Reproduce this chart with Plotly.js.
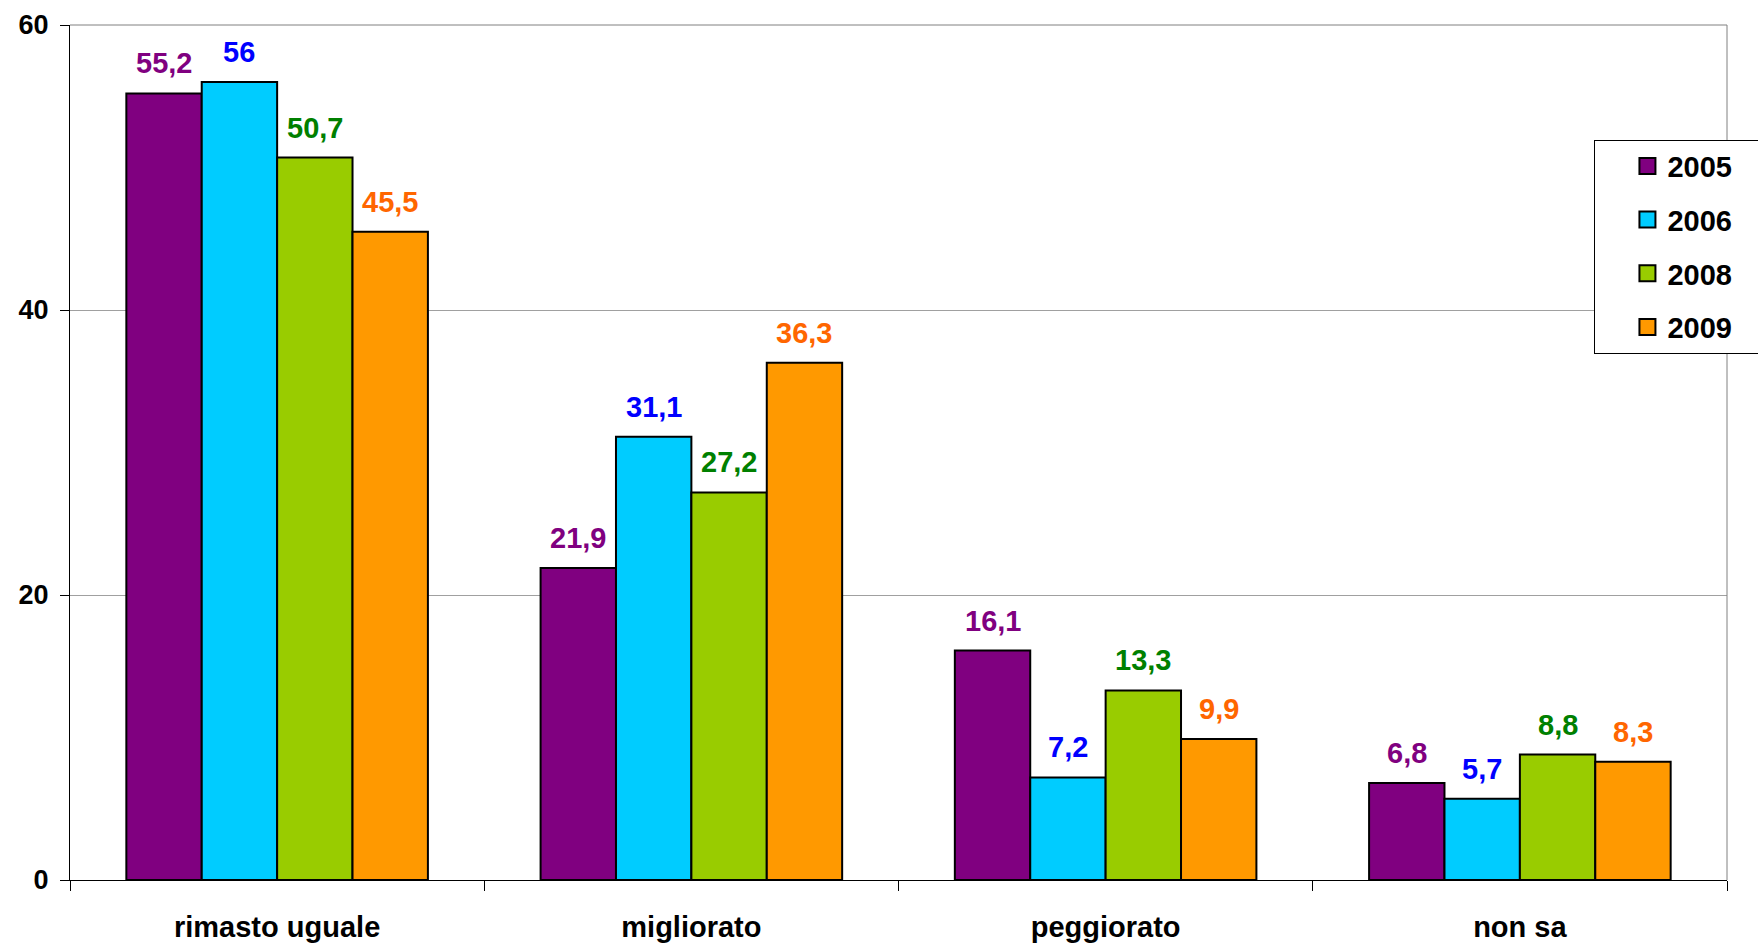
<!DOCTYPE html>
<html>
<head>
<meta charset="utf-8">
<script src="https://cdn.plot.ly/plotly-3.0.1.min.js"></script>
<style>html,body{margin:0;padding:0;background:#fff;}#chart{width:1758px;height:944px;}</style>
</head>
<body>
<div id="chart"></div>
<script>
const categories = ["rimasto uguale", "migliorato", "peggiorato", "non sa"];
const years = ["2005", "2006", "2008", "2009"];
const v2005 = [55.2, 21.9, 16.1, 6.8];
const v2006 = [56, 31.1, 7.2, 5.7];
const v2008 = [50.7, 27.2, 13.3, 8.8];
const v2009 = [45.5, 36.3, 9.9, 8.3];
const barColors = ["#800080", "#00CCFF", "#99CC00", "#FF9900"];
const labelColors = ["#800080", "#0000FF", "#008000", "#FF6600"];
const yTicks = [0, 20, 40, 60];

const series = [v2005, v2006, v2008, v2009];
const FONT = "Liberation Sans, Arial, sans-serif";

const W = 1758, H = 944;
const margin = {l: 69.5, r: 31.4, t: 24.7, b: 64, autoexpand: false};
const BARGAP = 0.272;
const catPx = (W - margin.l - margin.r) / categories.length;
const barPx = catPx * (1 - BARGAP) / series.length;

const traces = series.map((vals, i) => ({
  type: "bar",
  name: years[i],
  x: categories,
  y: vals,
  marker: {color: barColors[i], line: {color: "#000000", width: 2}},
  showlegend: false,
  hoverinfo: "skip"
}));

// legend-only entries (larger square keys, as in the original)
series.forEach((vals, i) => {
  traces.push({
    type: "scatter",
    mode: "markers",
    name: "<b>" + years[i] + "</b>\u00a0\u00a0\u00a0\u00a0\u00a0",
    x: [null], y: [null],
    marker: {symbol: "square", size: 16, color: barColors[i], line: {color: "#000000", width: 2}},
    legendgroup: "g" + i,
    showlegend: true,
    hoverinfo: "skip"
  });
});

const annotations = [];
series.forEach((vals, i) => {
  vals.forEach((v, j) => {
    annotations.push({
      xref: "x", yref: "y",
      x: categories[j], y: v,
      text: "<b>" + String(v).replace(".", ",") + "</b>",
      showarrow: false,
      xanchor: "center", yanchor: "bottom",
      xshift: (i - (series.length - 1) / 2) * barPx,
      yshift: 12,
      font: {family: FONT, size: 29, color: labelColors[i]}
    });
  });
});

const layout = {
  width: W, height: H,
  margin: margin,
  paper_bgcolor: "#ffffff",
  plot_bgcolor: "#ffffff",
  barmode: "group",
  bargap: BARGAP,
  bargroupgap: 0,
  font: {family: FONT, size: 29, color: "#000"},
  xaxis: {
    type: "category",
    tickson: "boundaries",
    ticks: "outside",
    ticklen: 10,
    tickcolor: "#000",
    showline: true,
    linecolor: "#000",
    linewidth: 1,
    showgrid: false,
    ticklabelstandoff: 21,
    tickfont: {family: FONT, size: 29, color: "#000"},
    tickprefix: "<b>", ticksuffix: "</b>"
  },
  yaxis: {
    range: [0, 60],
    tickvals: yTicks,
    ticktext: yTicks.map(t => "<b>" + t + "</b>"),
    ticks: "outside",
    ticklen: 9,
    tickcolor: "#000",
    showline: true,
    linecolor: "#000",
    linewidth: 1,
    showgrid: true,
    gridcolor: "#a0a0a0",
    gridwidth: 1,
    zeroline: false,
    ticklabelstandoff: 6,
    tickfont: {family: FONT, size: 27, color: "#000"}
  },
  annotations: annotations,
  shapes: [
    {type: "line", xref: "paper", yref: "paper", x0: 1, x1: 1, y0: 0, y1: 1, line: {color: "#808080", width: 1}},
    {type: "line", xref: "paper", yref: "paper", x0: 0, x1: 1, y0: 1, y1: 1, line: {color: "#808080", width: 1}}
  ],
  showlegend: true,
  legend: {
    x: 0.92, y: 0.866, xanchor: "left", yanchor: "top",
    bgcolor: "#ffffff",
    bordercolor: "#000000",
    borderwidth: 1,
    traceorder: "grouped",
    tracegroupgap: 13,
    indentation: 32,
    font: {family: FONT, size: 29, color: "#000"},
    itemwidth: 30
  }
};

Plotly.newPlot("chart", traces, layout, {displayModeBar: false, staticPlot: true});
</script>
</body>
</html>
